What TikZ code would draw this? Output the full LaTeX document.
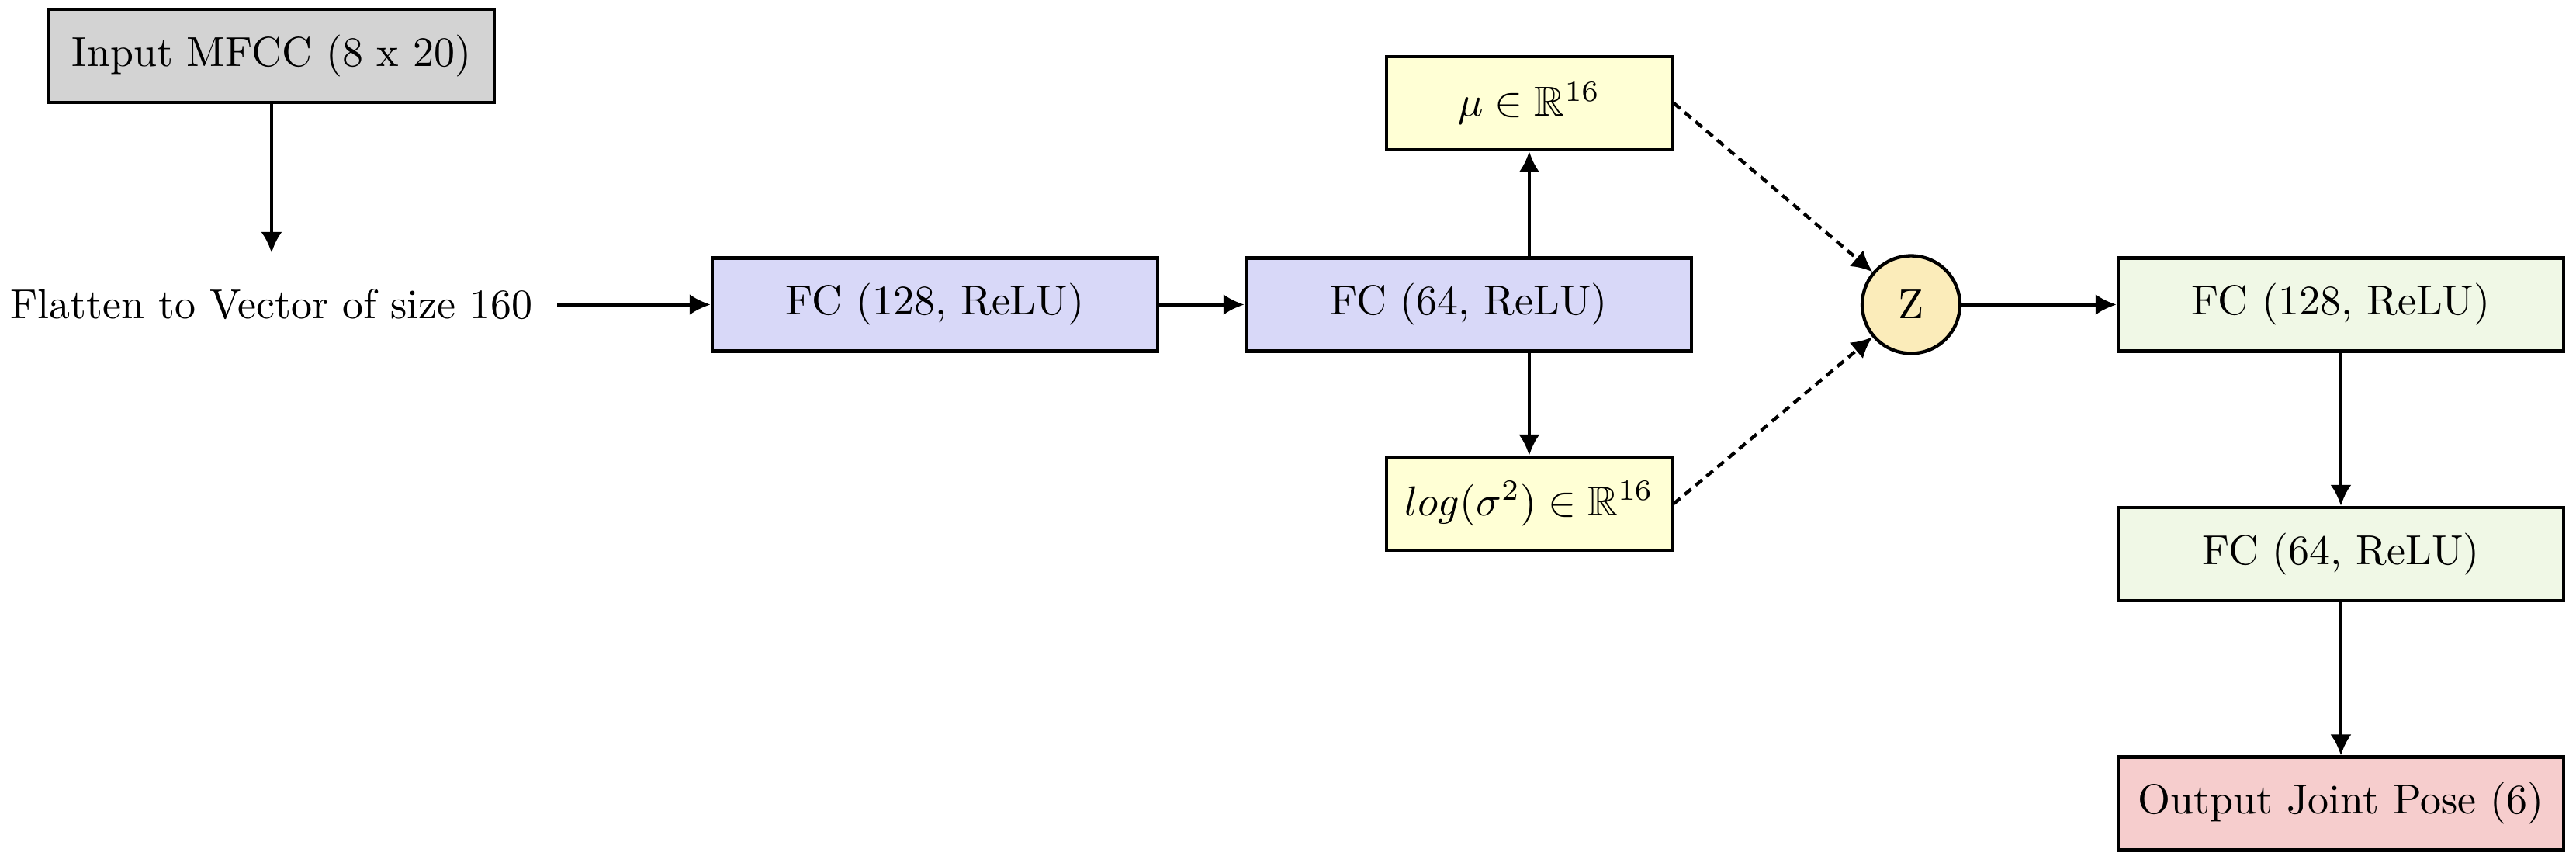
\documentclass[tikz,border=0pt]{standalone}
\usepackage{amssymb}
\usetikzlibrary{arrows.meta}

\definecolor{inputgray}{RGB}{211,211,211}
\definecolor{fcblue}{RGB}{216,216,248}
\definecolor{latentyellow}{RGB}{255,255,213}
\definecolor{zorange}{RGB}{251,236,186}
\definecolor{decgreen}{RGB}{240,248,230}
\definecolor{outred}{RGB}{246,205,205}

\begin{document}
\begin{tikzpicture}[
    block/.style={rectangle, draw, thick, minimum width=3.74cm, minimum height=0.78cm, text centered},
    latent/.style={block, fill=latentyellow, minimum width=2.40cm},
    arrow/.style={->, >={Latex[length=5pt,width=5pt]}, thick},
    sample/.style={arrow, dash pattern=on 2pt off 1.4pt}
]
\useasboundingbox (0,0) rectangle (21.629,-7.244);

% Input
\node[block, fill=inputgray] (input) at (2.280,-0.469) {Input MFCC (8 x 20)};
\node[inner xsep=5.6pt, inner ysep=8.5pt] (flat) at (2.280,-2.557) {Flatten to Vector of size 160};

% Encoder
\node[block, fill=fcblue] (enc1) at (7.850,-2.557) {FC (128, ReLU)};
\node[block, fill=fcblue] (enc2) at (12.332,-2.557) {FC (64, ReLU)};

% Latent space
\node[latent] (mu) at (12.840,-0.866) {$\mu \in \mathbb{R}^{16}$};
\node[latent] (logvar) at (12.840,-4.228) {$log(\sigma^2) \in \mathbb{R}^{16}$};
\node[circle, draw, thick, fill=zorange, minimum size=0.82cm, inner sep=0pt] (z) at (16.046,-2.557) {Z};

% Decoder
\node[block, fill=decgreen] (dec1) at (19.655,-2.557) {FC (128, ReLU)};
\node[block, fill=decgreen] (dec2) at (19.655,-4.651) {FC (64, ReLU)};
\node[block, fill=outred] (output) at (19.655,-6.746) {Output Joint Pose (6)};

% Arrows
\draw[arrow] (input) -- (flat);
\draw[arrow] (flat) -- (enc1);
\draw[arrow] (enc1) -- (enc2);
\draw[arrow] (enc2.north -| mu) -- (mu.south);
\draw[arrow] (enc2.south -| logvar) -- (logvar.north);
\draw[sample] (mu.east) -- (z);
\draw[sample] (logvar.east) -- (z);
\draw[arrow] (z) -- (dec1);
\draw[arrow] (dec1) -- (dec2);
\draw[arrow] (dec2) -- (output);

\end{tikzpicture}
\end{document}
